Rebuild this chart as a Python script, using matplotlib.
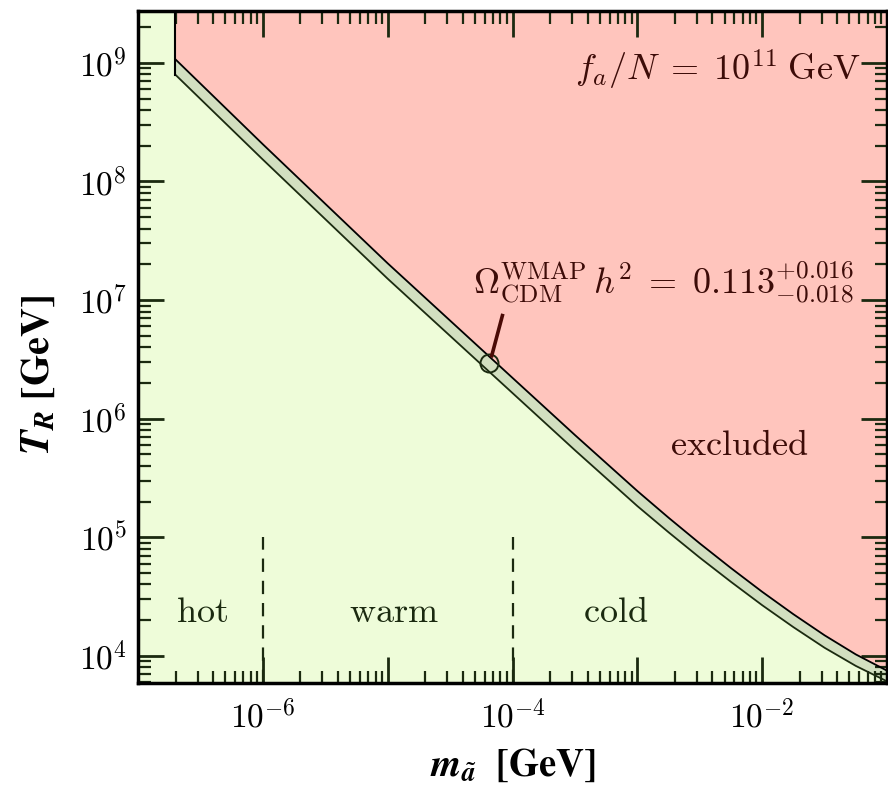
import numpy as np
import matplotlib
matplotlib.use('Agg')
import matplotlib.pyplot as plt
from matplotlib.ticker import LogLocator, FuncFormatter, NullFormatter

plt.rcParams['mathtext.fontset'] = 'cm'
plt.rcParams['font.family'] = 'serif'
plt.rcParams['font.serif'] = ['DejaVu Serif']

# axino mass [GeV] and reheating temperature bounds [GeV] (upper / lower edge of WMAP band)
log_m = [-6.7, -6, -5, -4, -3.5, -3, -2.75, -2.5, -2.25, -2, -1.75, -1.5, -1.25, -1]
log_T_upper = [9.03, 8.314, 7.31, 6.344, 5.862, 5.39, 5.165, 4.948, 4.740, 4.540,
               4.351, 4.173, 4.012, 3.875]
log_T_lower = [8.90, 8.185, 7.18, 6.216, 5.734, 5.263, 5.042, 4.828, 4.624, 4.427,
               4.242, 4.068, 3.915, 3.785]
m_axino = [10**v for v in log_m]
T_upper = [10**v for v in log_T_upper]
T_lower = [10**v for v in log_T_lower]

# hot / warm / cold boundaries
m_regions = [1e-6, 1e-4]
T_region_top = 1e5

# WMAP point marker
m_point = 6.43e-5
T_point = 2.95e6

x_min, x_max = 1e-7, 1e-1
y_min, y_max = 5.9e3, 2.74e9

red = '#ffc5bd'
green = '#eefcd9'
band = '#d2dfc0'
dark_green = '#1b2a10'
maroon = '#3d0c08'

fig = plt.figure(figsize=(8.88, 7.87), dpi=100)
ax = fig.add_axes([138/888, 1 - 683/787, 749/888, 672/787])
ax.set_facecolor(green)
ax.set_xscale('log')
ax.set_yscale('log')
ax.set_xlim(x_min, x_max)
ax.set_ylim(y_min, y_max)

# excluded region and WMAP band
ax.fill_between(m_axino, T_upper, y_max * 1.5, color=red, lw=0, zorder=1)
ax.fill_between(m_axino, T_lower, T_upper, color=band, lw=0, zorder=1)
ax.plot(m_axino, T_upper, color='black', lw=1.3, zorder=3)
ax.plot(m_axino, T_lower, color=dark_green, lw=1.3, zorder=3)
ax.plot([m_axino[0], m_axino[0]], [T_lower[0], y_max * 1.5], color='black', lw=1.5, zorder=3)

# region separators
for m in m_regions:
    ax.plot([m, m], [y_min, T_region_top], color=dark_green, lw=1.6,
            dashes=(6, 4), zorder=2)

ax.plot([m_point], [T_point], 'o', ms=13, mfc='none', mec=dark_green, mew=1.4, zorder=4)
ax.plot([m_point * 1.06, 8.3e-5], [T_point * 1.15, 7.4e6], color='#4a0a05', lw=2.6, zorder=4)

fs = 26
ax.text(3.25e-7, 2.35e4, r'$\mathrm{hot}$', fontsize=fs, color=dark_green, ha='center', va='center')
ax.text(1.12e-5, 2.35e4, r'$\mathrm{warm}$', fontsize=fs, color=dark_green, ha='center', va='center')
ax.text(6.67e-4, 2.35e4, r'$\mathrm{cold}$', fontsize=fs, color=dark_green, ha='center', va='center')
ax.text(6.5e-3, 6.0e5, r'$\mathrm{excluded}$', fontsize=fs, color=maroon, ha='center', va='center')
ax.text(0.965, 0.912, r'$f_a/N\;=\;10^{11}\;\mathrm{GeV}$', transform=ax.transAxes,
        fontsize=fs, color=maroon, ha='right', va='center')
ax.text(1.61e-3, 1.4e7, r'$\Omega^{\rm WMAP}_{\rm CDM}\,h^2\;=\;0.113^{+0.016}_{-0.018}$',
        fontsize=fs, color=maroon, ha='center', va='center')

# ticks
ax.xaxis.set_major_locator(LogLocator(base=10, numticks=20))
ax.xaxis.set_minor_locator(LogLocator(base=10, subs=np.arange(2, 10), numticks=20))
ax.yaxis.set_major_locator(LogLocator(base=10, numticks=20))
ax.yaxis.set_minor_locator(LogLocator(base=10, subs=np.arange(2, 10), numticks=20))


def x_fmt(v, pos):
    e = int(round(np.log10(v)))
    if e % 2 != 0 or v < x_min or v > x_max:
        return ''
    return r'$10^{%d}$' % e


def y_fmt(v, pos):
    if v < y_min or v > y_max:
        return ''
    e = int(round(np.log10(v)))
    return r'$10^{%d}$' % e


ax.xaxis.set_major_formatter(FuncFormatter(x_fmt))
ax.yaxis.set_major_formatter(FuncFormatter(y_fmt))
ax.xaxis.set_minor_formatter(NullFormatter())
ax.yaxis.set_minor_formatter(NullFormatter())

ax.tick_params(which='both', direction='in', top=True, right=True, labelsize=24,
               color=dark_green)
ax.tick_params(which='both', axis='both', labeltop=False, labelright=False)
ax.tick_params(which='major', length=19, width=2)
ax.tick_params(which='minor', length=9, width=1.6)
ax.tick_params(axis='x', pad=12)
ax.tick_params(axis='y', pad=8)
# ticks that sit on the excluded region look reddish
for t in ax.yaxis.get_major_ticks() + ax.yaxis.get_minor_ticks():
    t.tick2line.set_color('#4a1008')
for t in ax.xaxis.get_major_ticks() + ax.xaxis.get_minor_ticks():
    t.tick2line.set_color('#4a1008')
for s in ax.spines.values():
    s.set_linewidth(2.5)
    s.set_zorder(6)

xl = ax.set_xlabel(r'$\mathbfit{m}_{\tilde{\mathbfit{a}}}\ \ \mathbf{[GeV]}$', fontsize=28,
                   math_fontfamily='stix', va='baseline')
yl = ax.set_ylabel(r'$\mathbfit{T_R}\ \mathbf{[GeV]}$', fontsize=29,
                   math_fontfamily='stix', va='baseline')
ax.xaxis.set_label_coords(0.5007, -0.1384)
ax.yaxis.set_label_coords(-0.119, 0.458)
try:
    fig.canvas.draw()
except Exception:
    xl.set_text(r'$m_{\tilde{a}}\ \mathbf{[GeV]}$')
    yl.set_text(r'$T_R\ \mathbf{[GeV]}$')

fig.savefig('out.png', dpi=100)
